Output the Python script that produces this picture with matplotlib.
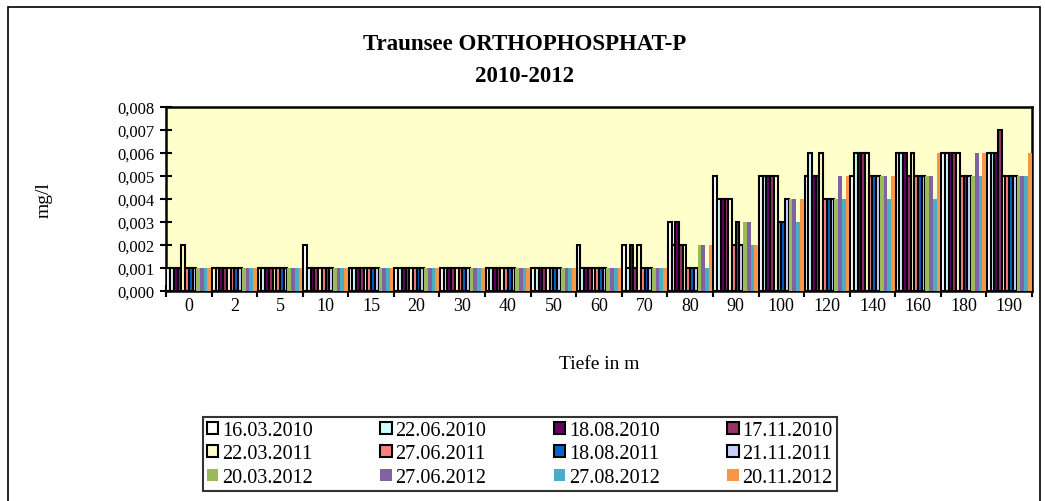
import numpy as np
import matplotlib
matplotlib.use('Agg')
import matplotlib.pyplot as plt
from matplotlib.patches import Rectangle, Patch
from matplotlib.ticker import FuncFormatter

# Tiefen (Kategorien)
tiefen = ['0', '2', '5', '10', '15', '20', '30', '40', '50', '60',
          '70', '80', '90', '100', '120', '140', '160', '180', '190']

termine = ['16.03.2010', '22.06.2010', '18.08.2010', '17.11.2010',
           '22.03.2011', '27.06.2011', '18.08.2011', '21.11.2011',
           '20.03.2012', '27.06.2012', '27.08.2012', '20.11.2012']

farben = ['#FFFFFF', '#CCFFFF', '#660066', '#993366',
          '#FFFFCC', '#FF8080', '#0066CC', '#CCCCFF',
          '#9BBB59', '#8064A2', '#4BACC6', '#F79646']

# Werte in mg/l, je Termin über die Tiefen
w_16_03_2010 = [0.001, 0.001, 0.001, 0.002, 0.001, 0.001, 0.001, 0.001, 0.001, 0.002, 0.002, 0.003, 0.005, 0.005, 0.005, 0.005, 0.006, 0.006, 0.006]
w_22_06_2010 = [0.001, 0.001, 0.001, 0.001, 0.001, 0.001, 0.001, 0.001, 0.001, 0.001, 0.001, 0.002, 0.004, 0.005, 0.006, 0.006, 0.006, 0.006, 0.006]
w_18_08_2010 = [0.001, 0.001, 0.001, 0.001, 0.001, 0.001, 0.001, 0.001, 0.001, 0.001, 0.002, 0.003, 0.004, 0.005, 0.005, 0.006, 0.006, 0.006, 0.006]
w_17_11_2010 = [0.001, 0.001, 0.001, 0.001, 0.001, 0.001, 0.001, 0.001, 0.001, 0.001, 0.001, 0.002, 0.004, 0.005, 0.005, 0.006, 0.005, 0.006, 0.007]
w_22_03_2011 = [0.002, 0.001, 0.001, 0.001, 0.001, 0.001, 0.001, 0.001, 0.001, 0.001, 0.002, 0.002, 0.004, 0.005, 0.006, 0.006, 0.006, 0.006, 0.005]
w_27_06_2011 = [0.001, 0.001, 0.001, 0.001, 0.001, 0.001, 0.001, 0.001, 0.001, 0.001, 0.001, 0.001, 0.002, 0.003, 0.004, 0.005, 0.005, 0.005, 0.005]
w_18_08_2011 = [0.001, 0.001, 0.001, 0.001, 0.001, 0.001, 0.001, 0.001, 0.001, 0.001, 0.001, 0.001, 0.003, 0.003, 0.004, 0.005, 0.005, 0.005, 0.005]
w_21_11_2011 = [0.001, 0.001, 0.001, 0.001, 0.001, 0.001, 0.001, 0.001, 0.001, 0.001, 0.001, 0.001, 0.002, 0.004, 0.004, 0.005, 0.005, 0.005, 0.005]
w_20_03_2012 = [0.001, 0.001, 0.001, 0.001, 0.001, 0.001, 0.001, 0.001, 0.001, 0.001, 0.001, 0.002, 0.003, 0.004, 0.004, 0.005, 0.005, 0.005, 0.005]
w_27_06_2012 = [0.001, 0.001, 0.001, 0.001, 0.001, 0.001, 0.001, 0.001, 0.001, 0.001, 0.001, 0.002, 0.003, 0.004, 0.005, 0.005, 0.005, 0.006, 0.005]
w_27_08_2012 = [0.001, 0.001, 0.001, 0.001, 0.001, 0.001, 0.001, 0.001, 0.001, 0.001, 0.001, 0.001, 0.002, 0.003, 0.004, 0.004, 0.004, 0.005, 0.005]
w_20_11_2012 = [0.001, 0.001, 0.001, 0.001, 0.001, 0.001, 0.001, 0.001, 0.001, 0.001, 0.001, 0.002, 0.002, 0.004, 0.005, 0.005, 0.006, 0.006, 0.006]

werte = [w_16_03_2010, w_22_06_2010, w_18_08_2010, w_17_11_2010,
         w_22_03_2011, w_27_06_2011, w_18_08_2011, w_21_11_2011,
         w_20_03_2012, w_27_06_2012, w_27_08_2012, w_20_11_2012]

plt.rcParams['font.family'] = ['Liberation Serif', 'DejaVu Serif']

fig = plt.figure(figsize=(10.45, 5.02), dpi=100)
ax = fig.add_axes([166 / 1045, 1 - 292 / 502, (1032 - 166) / 1045, (292 - 108) / 502])
ax.set_facecolor('#FFFFCC')

# Rahmen um das ganze Diagramm
fig.patches.append(Rectangle((8 / 1045, -0.02), (1040 - 8) / 1045, 1.004,
                             transform=fig.transFigure, fill=False,
                             edgecolor='black', linewidth=1.2))

x = np.arange(len(tiefen))
n = len(termine)
breite = 0.98 / n
handles = []
for i, (name, farbe, vals) in enumerate(zip(termine, farben, werte)):
    pos = x - 0.49 + breite * (i + 0.5)
    if i < 8:
        ax.bar(pos, vals, width=breite, color=farbe, edgecolor='black',
               linewidth=1.5, zorder=3)
        handles.append(Patch(facecolor=farbe, edgecolor='black', linewidth=1.5, label=name))
    else:
        ax.bar(pos, vals, width=breite, color=farbe, linewidth=0, zorder=3)
        handles.append(Patch(facecolor=farbe, edgecolor='none', label=name))

ax.set_xlim(-0.5, len(tiefen) - 0.5)
ax.set_ylim(0, 0.008)
ax.set_yticks(np.arange(0, 0.0081, 0.001))
ax.yaxis.set_major_formatter(FuncFormatter(lambda v, p: f'{v:.3f}'.replace('.', ',')))
ax.tick_params(axis='y', direction='inout', length=9, width=1.5, labelsize=12)

ax.set_xticks(x)
ax.set_xticklabels(tiefen, fontsize=13)
ax.set_xticks(np.arange(-0.5, len(tiefen), 1), minor=True)
ax.tick_params(axis='x', which='major', length=0, pad=4)
ax.tick_params(axis='x', which='minor', direction='inout', length=9, width=1.5)

for s in ax.spines.values():
    s.set_linewidth(1.8)

ax.set_ylabel('mg/l', fontsize=14, labelpad=47)
ax.set_xlabel('Tiefe in m', fontsize=14, labelpad=30)

fig.text(525 / 1045, 1 - 45 / 502, 'Traunsee ORTHOPHOSPHAT-P', ha='center', va='center',
         fontsize=16.5, fontweight='bold')
fig.text(525 / 1045, 1 - 76 / 502, '2010-2012', ha='center', va='center',
         fontsize=16.5, fontweight='bold')

# Legende zeilenweise wie im Original
reihenfolge = [0, 4, 8, 1, 5, 9, 2, 6, 10, 3, 7, 11]
leg = fig.legend([handles[k] for k in reihenfolge], [termine[k] for k in reihenfolge],
                 ncol=4, loc='center', bbox_to_anchor=(520 / 1045, 1 - 455 / 502),
                 fontsize=14.5, frameon=True, fancybox=False, edgecolor='black',
                 handlelength=0.55, handleheight=0.55, handletextpad=0.2,
                 columnspacing=3.35, labelspacing=0.22, borderpad=0.22,
                 borderaxespad=0)
leg.get_frame().set_linewidth(1.5)

fig.savefig('out.png', dpi=100)
